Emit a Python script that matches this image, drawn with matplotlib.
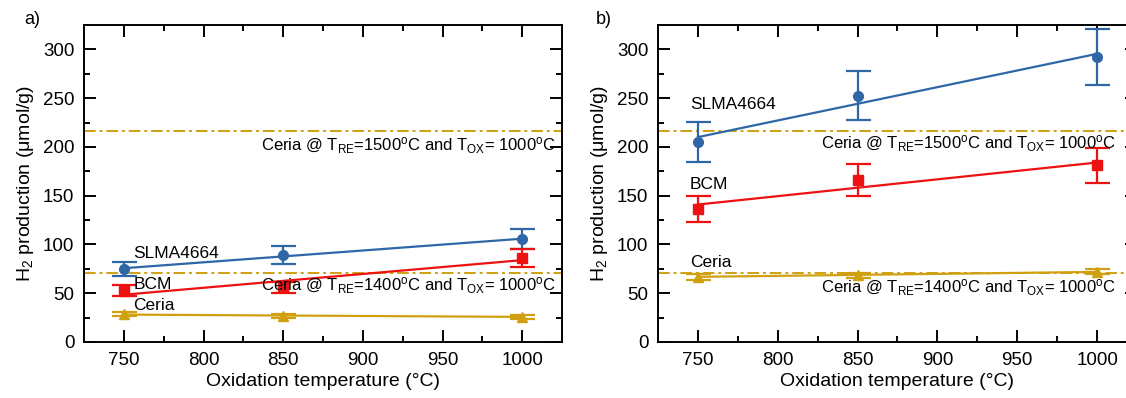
import numpy as np
import matplotlib
matplotlib.use("Agg")
import matplotlib.pyplot as plt

plt.rcParams['font.family'] = ['Liberation Sans', 'DejaVu Sans']
plt.rcParams['mathtext.fontset'] = 'custom'
plt.rcParams['mathtext.rm'] = 'Liberation Sans'
plt.rcParams['mathtext.it'] = 'Liberation Sans:italic'

temps = [750, 850, 1000]

# Panel a
a_slma = [74.7, 89.3, 105.3]
a_slma_err = [7.5, 9.2, 10.4]
a_bcm = [52.5, 56.0, 86.6]
a_bcm_err = [5.5, 5.5, 9.2]
a_ceria = [28.5, 26.5, 26.0]
a_ceria_err = [2.0, 2.0, 2.0]

# Panel b
b_slma = [205.2, 252.3, 292.2]
b_slma_err = [20.5, 25.1, 29.0]
b_bcm = [136.4, 165.7, 181.0]
b_bcm_err = [13.6, 16.5, 18.0]
b_ceria = [67.0, 68.5, 72.0]
b_ceria_err = [3.0, 2.5, 2.5]

ref_1500 = 216.5
ref_1400 = 70.6

blue = '#2F67A6'
red = '#EE1111'
gold = '#D1A010'

W, H = 1126, 398
fig = plt.figure(figsize=(W / 100, H / 100), dpi=100)

def px_axes(left, right, top, bottom):
    return fig.add_axes([left / W, (H - bottom) / H, (right - left) / W, (bottom - top) / H])

ax_a = px_axes(84, 562, 25, 342)
ax_b = px_axes(658, 1137, 25, 342)

def draw(ax, slma, slma_e, bcm, bcm_e, ceria, ceria_e, lab_pos, ann_x, ann_y):
    x = np.array(temps, dtype=float)
    xx = np.array([750, 1000], dtype=float)
    for y, e, c, m in [(slma, slma_e, blue, 'o'), (bcm, bcm_e, red, 's'), (ceria, ceria_e, gold, '^')]:
        p = np.polyfit(x, y, 1)
        ax.plot(xx, np.polyval(p, xx), color=c, lw=1.6, zorder=3)
        ax.errorbar(x, y, yerr=e, fmt=m, color=c, ms=7 if m != 's' else 6.5,
                    capsize=9, capthick=1.6, elinewidth=1.6, zorder=4)
    ax.axhline(ref_1500, color=gold, lw=1.4, ls=(0, (6, 2, 1.5, 2)), zorder=2)
    ax.axhline(ref_1400, color=gold, lw=1.4, ls=(0, (6, 2, 1.5, 2)), zorder=2)
    for name, (tx, ty) in zip(['SLMA4664', 'BCM', 'Ceria'], lab_pos):
        ax.text(tx, ty, name, fontsize=12.5, ha='left', va='center', zorder=5)
    ax.text(ann_x, ann_y[0], r'Ceria @ T$_{\mathrm{RE}}$=1500$^{\mathrm{o}}$C and T$_{\mathrm{OX}}$= 1000$^{\mathrm{o}}$C',
            fontsize=12, ha='left', va='center', zorder=5)
    ax.text(ann_x, ann_y[1], r'Ceria @ T$_{\mathrm{RE}}$=1400$^{\mathrm{o}}$C and T$_{\mathrm{OX}}$= 1000$^{\mathrm{o}}$C',
            fontsize=12, ha='left', va='center', zorder=5)
    ax.set_xlim(725, 1025)
    ax.set_ylim(0, 325)
    ax.set_xticks([750, 800, 850, 900, 950, 1000])
    ax.set_xticks([775, 825, 875, 925, 975], minor=True)
    ax.set_yticks([0, 50, 100, 150, 200, 250, 300])
    ax.set_yticks([25, 75, 125, 175, 225, 275], minor=True)
    ax.tick_params(which='both', direction='in', top=True, right=True, labelsize=13.5, width=1.4)
    ax.tick_params(which='major', length=8.5, pad=7)
    ax.tick_params(which='minor', length=4.3)
    for s in ax.spines.values():
        s.set_linewidth(1.4)
    ax.set_xlabel('Oxidation temperature (°C)', fontsize=14, labelpad=3)
    ax.set_ylabel(r'H$_2$ production (μmol/g)', fontsize=14, labelpad=5)

draw(ax_a, a_slma, a_slma_err, a_bcm, a_bcm_err, a_ceria, a_ceria_err,
     [(756, 91), (756, 59), (756, 37)], 836, (201, 57.5))
draw(ax_b, b_slma, b_slma_err, b_bcm, b_bcm_err, b_ceria, b_ceria_err,
     [(745, 243), (745, 161), (745, 82)], 827, (203, 56))

fig.text(24 / W, 1 - 20 / H, 'a)', fontsize=13, ha='left', va='center')
fig.text(596 / W, 1 - 20 / H, 'b)', fontsize=13, ha='left', va='center')

fig.savefig('out.png', dpi=100)
